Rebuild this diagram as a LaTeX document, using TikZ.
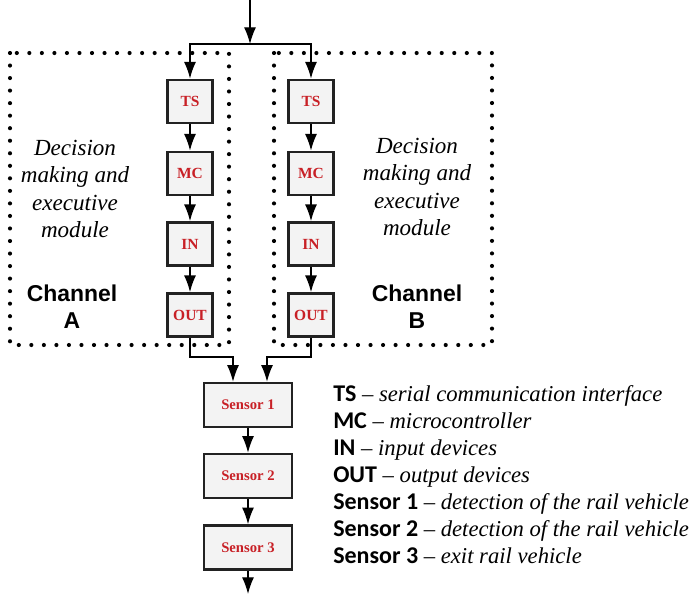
\documentclass[tikz,border=0pt]{standalone}
\usepackage{fontspec}
\setmainfont{Liberation Serif}[
  UprightFont={Liberation Serif},
  BoldFont={Liberation Serif Bold},
  ItalicFont={Liberation Serif Italic},
  BoldItalicFont={Liberation Serif Bold Italic}]
\newfontfamily\chanfont{Liberation Sans}
\newfontfamily\legfont{Carlito}
\usetikzlibrary{arrows.meta}
\definecolor{labelred}{RGB}{200,32,38}
\definecolor{boxfill}{RGB}{243,243,243}
\definecolor{boxline}{RGB}{34,34,34}
\tikzset{
  unitbox/.style={draw=boxline, line width=1.9pt, fill=boxfill,
    minimum width=33.75pt, minimum height=32.5pt, inner sep=0pt,
    font=\fontsize{11.6}{13}\selectfont\bfseries, text=labelred},
  sensorbox/.style={unitbox, minimum width=66pt, minimum height=33pt,
    font=\fontsize{11}{13}\selectfont\bfseries},
  link/.style={line width=0.95pt, draw=black},
  arr/.style={link, -{Latex[length=12.5pt,width=9pt]}},
  dotframe/.style={line width=3.1pt, line cap=round, dash pattern=on 0pt off 9.4pt},
  moduletext/.style={align=center, font=\fontsize{17.3}{20.5}\selectfont\itshape},
  chantext/.style={align=center, font=\chanfont\fontsize{17.2}{20}\selectfont\bfseries},
  legend/.style={anchor=base west, inner sep=0pt, font=\fontsize{17}{20}\selectfont}
}
\newcommand\legentry[2]{{\legfont\fontsize{18}{20}\selectfont\bfseries #1} -- \textit{#2}}
\begin{document}
\begin{tikzpicture}[x=0.75pt, y=-0.75pt]
\useasboundingbox (0,0) rectangle (694,594);

% dotted frames of the two channels
\draw[dotframe] (10,53) rectangle (229,345);
\draw[dotframe] (274,53) rectangle (492,345);

% processing chain of channel A
\node[unitbox] (tsA)  at (190,101.5) {TS};
\node[unitbox] (mcA)  at (190,173.5) {MC};
\node[unitbox] (inA)  at (190,244)   {IN};
\node[unitbox] (outA) at (190,315)   {OUT};

% processing chain of channel B
\node[unitbox] (tsB)  at (311,101.5) {TS};
\node[unitbox] (mcB)  at (311,173.5) {MC};
\node[unitbox] (inB)  at (311,244)   {IN};
\node[unitbox] (outB) at (311,315)   {OUT};

% sensors
\node[sensorbox] (s1) at (248,405) {Sensor 1};
\node[sensorbox] (s2) at (248,476) {Sensor 2};
\node[sensorbox] (s3) at (248,547.5) {Sensor 3};

% free ends and junctions
\coordinate (top) at (250,0);
\coordinate (split) at (250,44);
\coordinate (jA) at (233,357);
\coordinate (jB) at (267,357);
\coordinate (exit) at (248,594);

% input splitting into both channels
\draw[arr] (top) -- (split);
\draw[arr] (split) -| (tsA);
\draw[arr] (split) -| (tsB);

% chains inside the channels
\draw[arr] (tsA) -- (mcA);
\draw[arr] (mcA) -- (inA);
\draw[arr] (inA) -- (outA);
\draw[arr] (tsB) -- (mcB);
\draw[arr] (mcB) -- (inB);
\draw[arr] (inB) -- (outB);

% outputs merging onto the sensor chain
\draw[arr] (outA) |- (jA) -- (jA |- s1.north);
\draw[arr] (outB) |- (jB) -- (jB |- s1.north);
\draw[arr] (s1) -- (s2);
\draw[arr] (s2) -- (s3);
\draw[arr] (s3) -- (exit);

% channel captions
\node[moduletext] (modA) at (75,189) {Decision\\making and\\executive\\module};
\node[moduletext] (modB) at (417,187) {Decision\\making and\\executive\\module};
\node[chantext] (chA) at (72,307) {Channel\\A};
\node[chantext] (chB) at (417,307) {Channel\\B};

% legend
\node[legend] (l1) at (333,401) {\legentry{TS}{serial communication interface}};
\node[legend] (l2) at (333,428) {\legentry{MC}{microcontroller}};
\node[legend] (l3) at (333,455) {\legentry{IN}{input devices}};
\node[legend] (l4) at (333,482) {\legentry{OUT}{output devices}};
\node[legend] (l5) at (333,509) {\legentry{Sensor 1}{detection of the rail vehicle}};
\node[legend] (l6) at (333,536) {\legentry{Sensor 2}{detection of the rail vehicle}};
\node[legend] (l7) at (333,563) {\legentry{Sensor 3}{exit rail vehicle}};
\end{tikzpicture}
\end{document}
